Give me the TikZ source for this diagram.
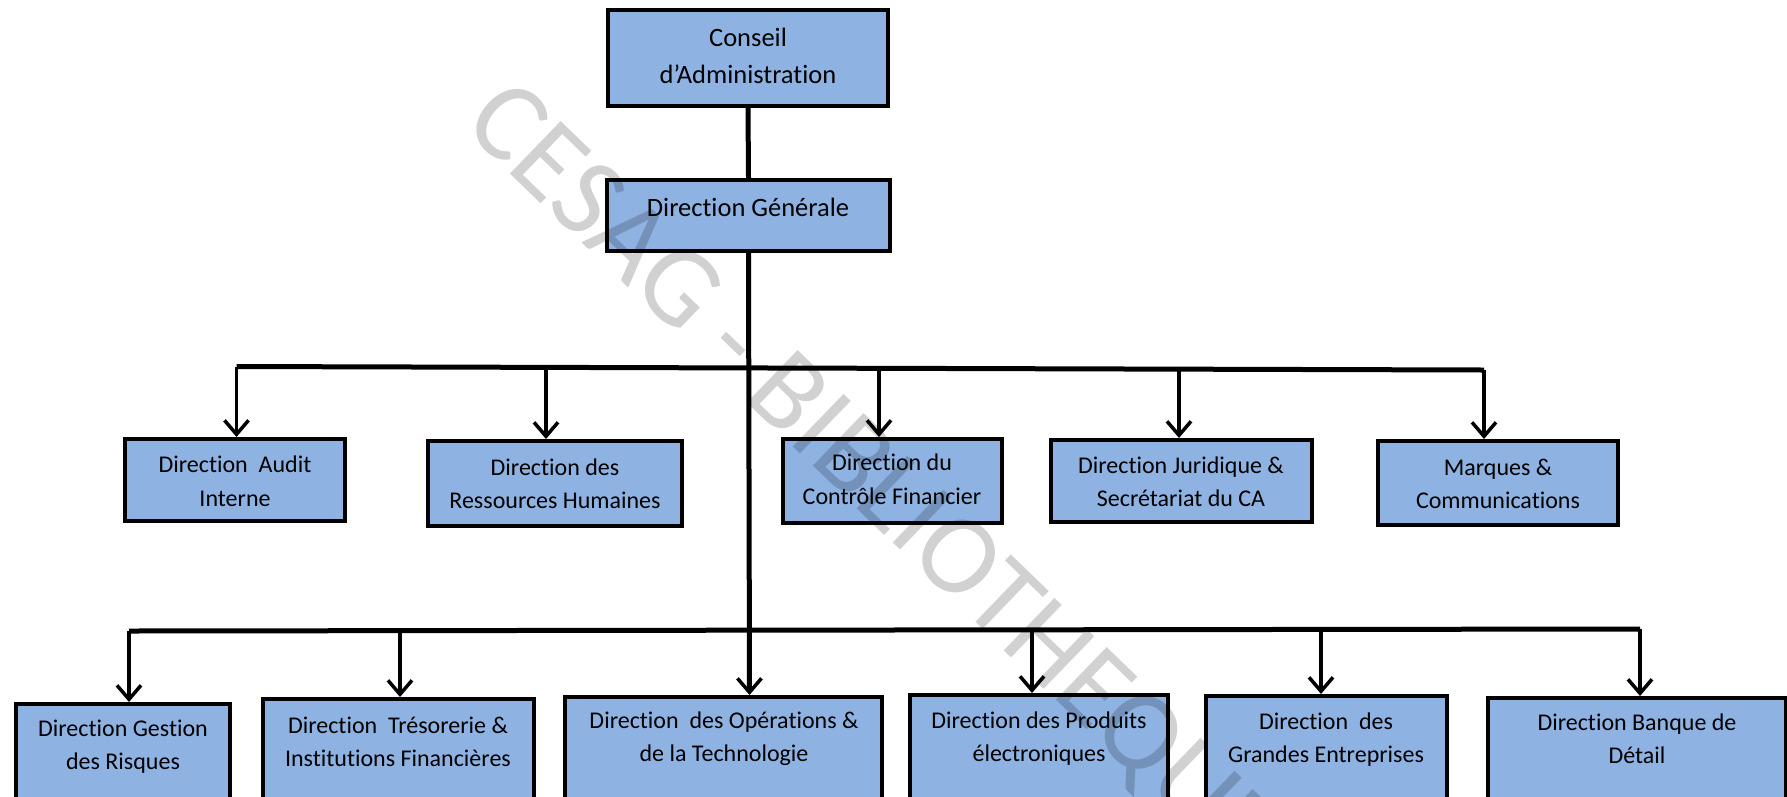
\documentclass[tikz,border=0pt]{standalone}
\usepackage{fontspec}
\setmainfont{Carlito}[Ligatures={NoCommon}]
\usetikzlibrary{arrows.meta,fit}
\definecolor{boxblue}{RGB}{142,179,226}
\begin{document}
\begin{tikzpicture}[x=1pt,y=-1pt,
  box/.style={draw=black,line width=4pt,fill=boxblue,inner sep=0pt},
  lblT/.style={font=\fontsize{26.5pt}{37pt}\selectfont,align=center,inner sep=0pt,anchor=north},
  lbl/.style={font=\fontsize{24pt}{33.5pt}\selectfont,align=center,inner sep=0pt,anchor=north},
  trunk/.style={line width=5pt},
  bar/.style={line width=5pt},
  br/.style={line width=3.5pt,-{Straight Barb[length=14pt,width=24pt]}},
  wm/.style={font=\fontsize{114pt}{114pt}\selectfont,text=black,text opacity=0.18,inner sep=0pt}
]
\clip (0,0) rectangle (1787,796);
\fill[white] (0,0) rectangle (1787,796);

% boxes
\node[box,fit={(608,10) (888,106)}] (con) {};
\node[box,fit={(607,180) (890,251)}] (dg) {};

\node[box,fit={(125,439) (345,521)}] (aud) {};
\node[box,fit={(428,441) (682,526)}] (rh) {};
\node[box,fit={(783,439) (1002,523)}] (ctl) {};
\node[box,fit={(1051,440) (1312,522)}] (jur) {};
\node[box,fit={(1378,441) (1618,525)}] (mar) {};

\node[box,fit={(16,704) (230,804)}] (ris) {};
\node[box,fit={(263,699) (534,804)}] (tre) {};
\node[box,fit={(565,697) (882,804)}] (ope) {};
\node[box,fit={(910,695) (1168,804)}] (pro) {};
\node[box,fit={(1206,696) (1447,804)}] (gra) {};
\node[box,fit={(1488,698) (1786,804)}] (ban) {};

% labels
\node[lblT] (conT) at (748,20.1) {\strut Conseil\\d’Administration\strut};
\node[lblT] (dgT) at (748,190.1) {\strut Direction Générale\strut};

\node[lbl] (audT) at (235,449.3) {\strut Direction\ \ Audit\\Interne\strut};
\node[lbl] (rhT) at (555,451.6) {\strut Direction des\\Ressources Humaines\strut};
\node[lbl] (ctlT) at (892,447.3) {\strut Direction du\\Contrôle Financier\strut};
\node[lbl] (jurT) at (1181,449.6) {\strut Direction Juridique \&\\Secrétariat du CA\strut};
\node[lbl] (marT) at (1498,451.6) {\strut Marques \&\\Communications\strut};

\node[lbl] (risT) at (123,712.6) {\strut Direction Gestion\\des Risques\strut};
\node[lbl] (treT) at (398,709.6) {\strut Direction\ \ Trésorerie \&\\Institutions Financières\strut};
\node[lbl] (opeT) at (724,704.6) {\strut Direction\ \ des Opérations \&\\de la Technologie\strut};
\node[lbl] (proT) at (1039,704.6) {\strut Direction des Produits\\électroniques\strut};
\node[lbl] (graT) at (1326,705.6) {\strut Direction\ \ des\\Grandes Entreprises\strut};
\node[lbl] (banT) at (1637,706.6) {\strut Direction Banque de\\Détail\strut};

% connectors
\draw[trunk] (con.south) -- (dg.north);
\draw[bar] (236.5,366.5) -- (1484,370);
\draw[bar] (129,631) -- (1640,629);
\draw[trunk,-{Straight Barb[length=14pt,width=24pt,line width=3.5pt]}] (dg.south) -- (749.5,697 |- ope.north);

\draw[br] (236.5,366.5) -- (236.5,0 |- aud.north);
\draw[br] (546,367.5) -- (546,0 |- rh.north);
\draw[br] (879,368.3) -- (879,0 |- ctl.north);
\draw[br] (1179,369.2) -- (1179,0 |- jur.north);
\draw[br] (1484,370) -- (1484,0 |- mar.north);

\draw[br] (129,631) -- (129,0 |- ris.north);
\draw[br] (400,630.6) -- (400,0 |- tre.north);
\draw[br] (1032,629.8) -- (1032,0 |- pro.north);
\draw[br] (1321,629.4) -- (1321,0 |- gra.north);
\draw[br] (1640,629) -- (1640,0 |- ban.north);

% watermark
\node[wm,rotate=-44,anchor=base west] (wmk) at (461,126) {CESAG - BIBLIOTHEQUE};
\end{tikzpicture}
\end{document}
